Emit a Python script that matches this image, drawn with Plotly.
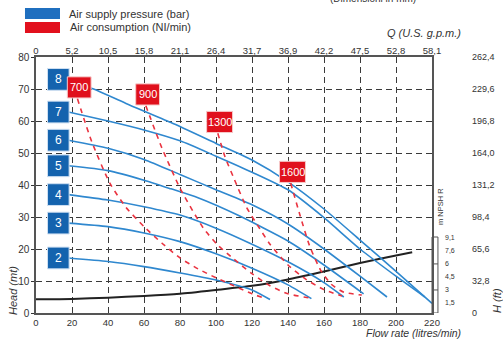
import plotly.graph_objects as go

# ---------------- data ----------------
flow_ticks = [0, 20, 40, 60, 80, 100, 120, 140, 160, 180, 200, 220]
gpm_labels = ["0", "5,2", "10,5", "15,8", "21,1", "26,4", "31,7", "36,9", "42,2", "47,5", "52,8", "58,1"]
head_ticks = [0, 10, 20, 30, 40, 50, 60, 70, 80]
ft_labels = ["0", "32,8", "65,6", "98,4", "131,2", "164,0", "196,8", "229,6", "262,4"]
npsh_labels = ["1,5", "3", "4,5", "6", "7,6", "9,1"]
npsh_values = [1.5, 3, 4.5, 6, 7.6, 9.1]

# pressure curves (bar) : flow (l/min) / head (m)
p8_x = [18, 32, 50, 75, 100, 120, 140, 160, 180, 200, 220]
p8_y = [73, 70, 65.5, 59.5, 53, 47.8, 41, 32.5, 22.8, 13, 3]
p7_x = [18, 40, 60, 80, 100, 120, 140, 160, 180, 200, 216]
p7_y = [62.8, 60, 57.2, 53.8, 49, 44, 38.5, 29.8, 20, 11.5, 5]
p6_x = [18, 40, 60, 80, 100, 120, 140, 160, 180, 195]
p6_y = [54, 51.5, 48, 43.3, 38.5, 33.8, 27.8, 20, 11.5, 5]
p5_x = [18, 40, 60, 75, 90, 112, 140, 160, 182]
p5_y = [46, 44.5, 41.5, 38.8, 36, 30.6, 22.5, 15, 6]
p4_x = [18, 40, 60, 80, 100, 120, 140, 160, 171]
p4_y = [37, 35.3, 33.2, 30.6, 26.5, 21.5, 16, 9.5, 5]
p3_x = [18, 40, 60, 80, 100, 120, 140, 153]
p3_y = [28.1, 27, 25, 22.3, 18.5, 14, 8.8, 4.5]
p2_x = [18, 40, 60, 80, 100, 120, 130]
p2_y = [17.2, 16.1, 14.5, 12.5, 10.3, 7.2, 4.2]
pressure_names = ["8", "7", "6", "5", "4", "3", "2"]

# air consumption curves (Nl/min)
c700_x = [23, 31, 41, 50, 60, 70, 80, 90, 100, 110, 120, 126]
c700_y = [67, 53.5, 40.6, 33, 27, 21.8, 17.2, 13.8, 11, 8.5, 6, 4.8]
c900_x = [61, 70, 80, 87, 93, 100.5, 110, 120, 130, 140, 153]
c900_y = [64.8, 51.5, 39, 32, 26.5, 21.5, 16.8, 12.3, 8.5, 6, 4.6]
c1300_x = [101, 105, 110, 117, 123, 130, 140, 150, 160, 170]
c1300_y = [56.2, 48.8, 42, 33, 27.5, 21.5, 15, 10.5, 7.3, 5.3]
c1600_x = [141.5, 146.7, 152, 158, 164, 171, 181]
c1600_y = [40.6, 30.5, 21, 13.5, 9, 6.5, 5.6]
consumption_names = ["700", "900", "1300", "1600"]

# NPSH required curve
npsh_x = [0, 20, 40, 60, 80, 100, 120, 140, 160, 180, 200, 209]
npsh_y = [4.3, 4.4, 4.8, 5.3, 6.0, 7.2, 8.5, 10.5, 13.0, 15.6, 18.0, 19.0]

# ---------------- styles ----------------
BLUE_LINE = "#2f88cf"
RED_LINE = "#ea3340"
BLUE_BOX = "#1463ae"
RED_BOX = "#e0101c"
TXT = "#333333"
FONT = "Liberation Sans, Arial, sans-serif"

fig = go.Figure()

pressure = [(p8_x, p8_y), (p7_x, p7_y), (p6_x, p6_y), (p5_x, p5_y),
            (p4_x, p4_y), (p3_x, p3_y), (p2_x, p2_y)]
consumption = [(c700_x, c700_y), (c900_x, c900_y), (c1300_x, c1300_y), (c1600_x, c1600_y)]

fig.add_trace(go.Scatter(x=npsh_x, y=npsh_y, mode="lines",
                         line=dict(color="#222222", width=2, shape="spline", smoothing=0.6),
                         name="NPSH R", hoverinfo="skip"))
for (xs, ys), nm in zip(pressure, pressure_names):
    fig.add_trace(go.Scatter(x=xs, y=ys, mode="lines", name=nm + " bar",
                             line=dict(color=BLUE_LINE, width=1.6, shape="spline", smoothing=0.6)))
for (xs, ys), nm in zip(consumption, consumption_names):
    fig.add_trace(go.Scatter(x=xs, y=ys, mode="lines", name=nm + " Nl/min",
                             line=dict(color=RED_LINE, width=1.6, dash="5px,5px",
                                       shape="spline", smoothing=0.6)))

# top (U.S. gpm) axis
fig.add_trace(go.Scatter(x=[0, 220], y=[None, None], xaxis="x2", yaxis="y",
                         showlegend=False, hoverinfo="skip"))

shapes = []
annotations = []


def ann(x, y, text, size, xref="paper", yref="paper", xanchor="center",
        yanchor="middle", angle=0, color=TXT):
    annotations.append(dict(x=x, y=y, xref=xref, yref=yref, text=text, showarrow=False,
                            xanchor=xanchor, yanchor=yanchor, textangle=angle,
                            font=dict(family=FONT, size=size, color=color)))


# pressure badges
for (xs, ys), nm in zip(pressure, pressure_names):
    cy = ys[0]
    shapes.append(dict(type="rect", xref="x", yref="y", x0=6.4, x1=18.4,
                       y0=cy - 3.4, y1=cy + 3.4, fillcolor=BLUE_BOX,
                       line=dict(color="#cfe0f2", width=1), layer="above"))
    ann(12.4, cy, nm, 12, xref="x", yref="y", color="white")
# consumption badges
for (xs, ys), nm in zip(consumption, consumption_names):
    cx = xs[0] + 1
    cy = ys[0] + 3.5
    hw = 6.6 if len(nm) == 3 else 7.2
    shapes.append(dict(type="rect", xref="x", yref="y", x0=cx - hw, x1=cx + hw,
                       y0=cy - 3.3, y1=cy + 3.3, fillcolor=RED_BOX,
                       line=dict(color="#f6c9c9", width=1), layer="above"))
    ann(cx, cy, nm, 11, xref="x", yref="y", color="white")

# legend boxes
shapes.append(dict(type="rect", xref="paper", yref="paper", x0=-0.0278, x1=0.0606,
                   y0=1.1484, y1=1.1914, fillcolor="#1f6fbf", line=dict(width=0)))
shapes.append(dict(type="rect", xref="paper", yref="paper", x0=-0.0278, x1=0.0606,
                   y0=1.0938, y1=1.1367, fillcolor="#e2101d", line=dict(width=0)))
ann(0.078, 1.168, "Air supply pressure (bar)", 11, xanchor="left")
ann(0.080, 1.117, "Air consumption (NI/min)", 11, xanchor="left")
ann(0.850, 1.199, "(Dimensioni in mm)", 10, yanchor="bottom")

# axis titles
ann(0.98, 1.094, "<i>Q (U.S. g.p.m.)</i>", 11)
ann(-0.058, 0.086, "<i>Head (mt)</i>", 11, angle=-90)
ann(1.164, 0.051, "<i>H (ft)</i>", 11, angle=-90)
ann(0.9545, -0.078, "<i>Flow rate (litres/min)</i>", 10.5)

# right-hand feet labels
for hv, lab in zip(head_ticks, ft_labels):
    ann(1.096, hv, lab, 9, yref="y", xanchor="left")

# NPSH scale
def npsh_to_head(v):
    return (8.68 * v - 3.0) / 3.2

shapes.append(dict(type="rect", xref="paper", yref="y", x0=1.0, x1=1.015,
                   y0=0, y1=npsh_to_head(9.1), line=dict(color="#555", width=1),
                   fillcolor="rgba(0,0,0,0)"))
for v in [3, 6]:
    shapes.append(dict(type="line", xref="paper", yref="y", x0=1.0, x1=1.015,
                       y0=npsh_to_head(v), y1=npsh_to_head(v), line=dict(color="#555", width=1)))
for v, lab in zip(npsh_values, npsh_labels):
    ann(1.027, npsh_to_head(v), lab, 7, yref="y", xanchor="left")
ann(1.0227, 0.418, "m NPSH R", 7.5, angle=-90)

fig.update_layout(
    width=503, height=345,
    margin=dict(l=36, r=71, t=57, b=32),
    plot_bgcolor="white", paper_bgcolor="white",
    showlegend=False,
    shapes=shapes, annotations=annotations,
    xaxis=dict(range=[0, 220], tickvals=flow_ticks, showgrid=True,
               gridcolor="#3a3a3a", griddash="6px,4px", gridwidth=1.2,
               zeroline=False, showline=True, linecolor="#555", linewidth=1.5, mirror=True,
               ticks="", tickfont=dict(family=FONT, size=9.5, color=TXT)),
    xaxis2=dict(range=[0, 220], tickvals=flow_ticks, ticktext=gpm_labels,
                overlaying="x", side="top", anchor="y", showgrid=False, zeroline=False,
                showline=False, ticks="", tickfont=dict(family=FONT, size=9.5, color=TXT)),
    yaxis=dict(range=[0, 80], tickvals=head_ticks, showgrid=True,
               gridcolor="#3a3a3a", griddash="6px,4px", gridwidth=1.2,
               zeroline=False, showline=True, linecolor="#555", linewidth=1.5, mirror=True,
               ticks="outside", ticklen=3, tickcolor="#333",
               tickfont=dict(family=FONT, size=10, color=TXT)),
)

fig.write_html("out.html")
